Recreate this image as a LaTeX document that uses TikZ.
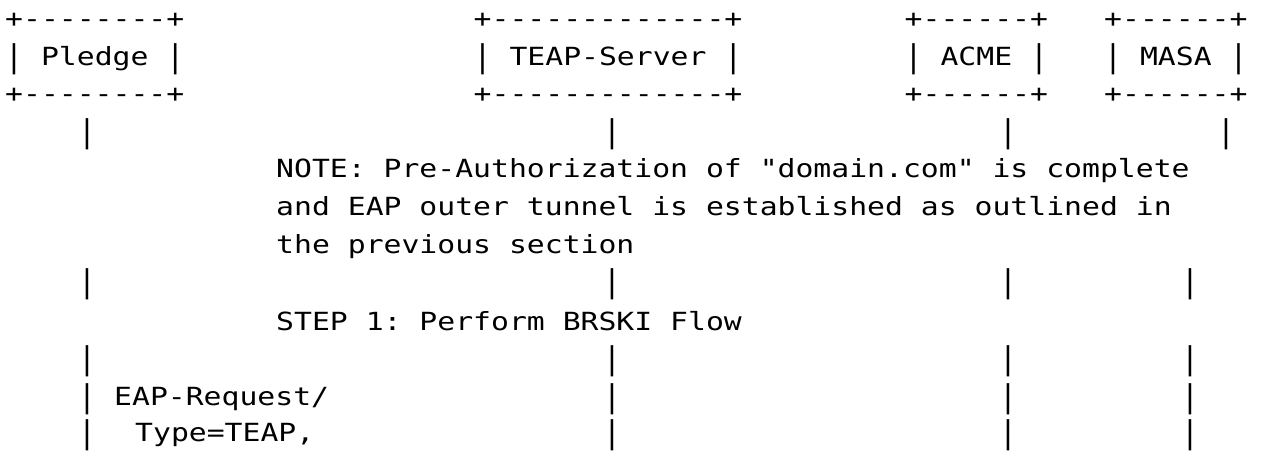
\documentclass[tikz,border=0pt]{standalone}
\usepackage{fontspec}
\usepackage{graphicx}
\newfontfamily\asciimono[FakeStretch=1.19,Ligatures=TeXOff]{DejaVu Sans Mono}
\newcommand\vbar{\raisebox{-2.2pt}{\scalebox{1}[1.25]{|}}}
\frenchspacing
\begin{document}
\begin{tikzpicture}[x=1pt,y=-1pt,
  mono/.style={font=\asciimono\fontsize{25pt}{30pt}\selectfont, inner sep=0pt, text=black},
  txt/.style={mono, anchor=base west},
  lane/.style={mono, anchor=base}]
\useasboundingbox (0,0) rectangle (1263,451);
\fill[white] (0,0) rectangle (1263,451);
% --- participant boxes (ASCII) ---
\node[txt] (pledgeTop) at (5,27.4) {+--------+};
\node[txt] (pledge)    at (5,65)   {\vbar{} Pledge \vbar};
\node[txt] (pledgeBot) at (5,102.6) {+--------+};
\node[txt] (teapTop) at (473.5,27.4) {+-------------+};
\node[txt] (teap)    at (473.5,65)   {\vbar{} TEAP-Server \vbar};
\node[txt] (teapBot) at (473.5,102.6) {+-------------+};
\node[txt] (acmeTop) at (904.5,27.4) {+------+};
\node[txt] (acme)    at (904.5,65)   {\vbar{} ACME \vbar};
\node[txt] (acmeBot) at (904.5,102.6) {+------+};
\node[txt] (masaTop) at (1104,27.4) {+------+};
\node[txt] (masa)    at (1104,65)   {\vbar{} MASA \vbar};
\node[txt] (masaBot) at (1104,102.6) {+------+};
% --- row 4 lifelines ---
\node[lane] (l4a) at (87,140.2)  {\vbar};
\node[lane] (l4b) at (612,140.2) {\vbar};
\node[lane] (l4c) at (1008,140.2) {\vbar};
\node[lane] (l4d) at (1226,140.2) {\vbar};
% --- note ---
\node[txt] (note1) at (276,177.8) {NOTE: Pre-Authorization of "domain.com" is complete};
\node[txt] (note2) at (276,215.4) {and EAP outer tunnel is established as outlined in};
\node[txt] (note3) at (276,253)   {the previous section};
% --- row 8 lifelines ---
\node[lane] (l8a) at (87,290.6)  {\vbar};
\node[lane] (l8b) at (612,290.6) {\vbar};
\node[lane] (l8c) at (1008,290.6) {\vbar};
\node[lane] (l8d) at (1190,290.6) {\vbar};
% --- step ---
\node[txt] (step1) at (276,330) {STEP 1: Perform BRSKI Flow};
% --- row 10 lifelines ---
\node[lane] (l10a) at (87,367)  {\vbar};
\node[lane] (l10b) at (612,367) {\vbar};
\node[lane] (l10c) at (1008,367) {\vbar};
\node[lane] (l10d) at (1190,367) {\vbar};
% --- row 11 ---
\node[lane] (l11a) at (87,405)  {\vbar};
\node[txt]  (req1) at (114,405) {EAP-Request/};
\node[lane] (l11b) at (612,405) {\vbar};
\node[lane] (l11c) at (1008,405) {\vbar};
\node[lane] (l11d) at (1190,405) {\vbar};
% --- row 12 ---
\node[lane] (l12a) at (87,441)  {\vbar};
\node[txt]  (req2) at (135,441) {Type=TEAP,};
\node[lane] (l12b) at (612,441) {\vbar};
\node[lane] (l12c) at (1008,441) {\vbar};
\node[lane] (l12d) at (1190,441) {\vbar};
\end{tikzpicture}
\end{document}
